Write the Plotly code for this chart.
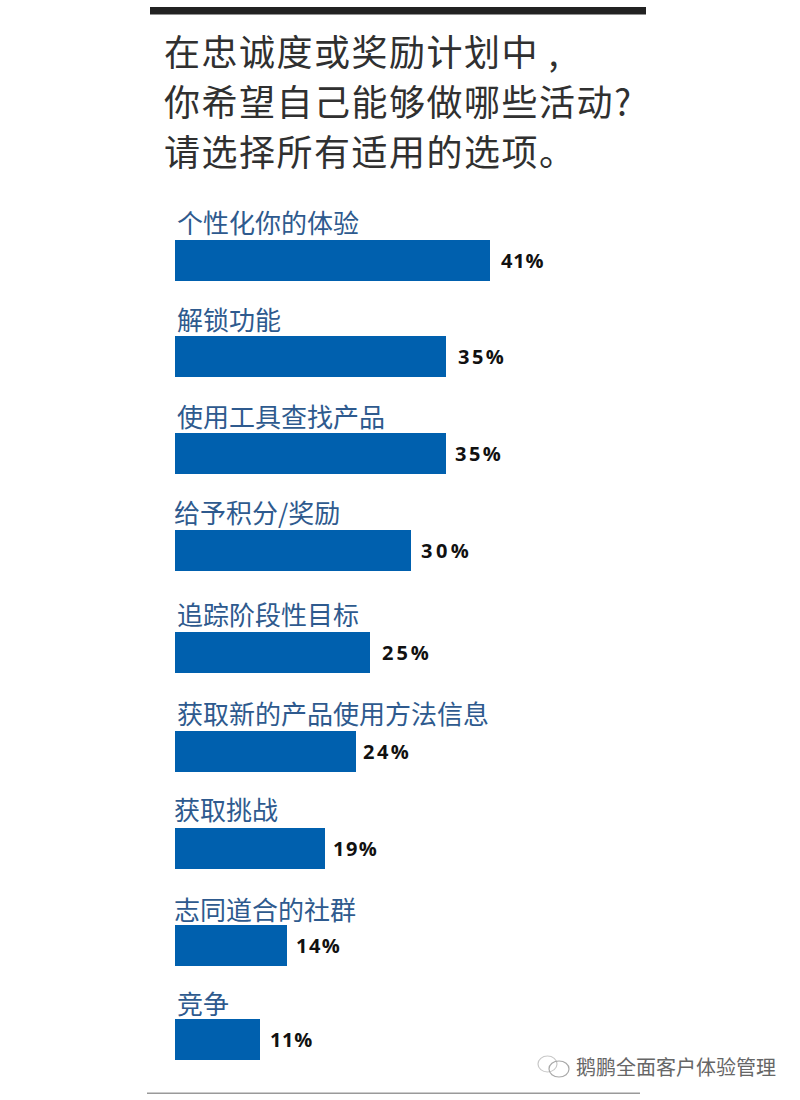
import plotly.graph_objects as go

title_lines = ["在忠诚度或奖励计划中 ,", "你希望自己能够做哪些活动?", "请选择所有适用的选项。"]
categories = ["个性化你的体验", "解锁功能", "使用工具查找产品", "给予积分/奖励", "追踪阶段性目标",
              "获取新的产品使用方法信息", "获取挑战", "志同道合的社群", "竞争"]
bar_values = [40.6, 35.0, 35.0, 30.4, 25.1, 23.4, 19.4, 14.5, 11.0]
value_labels = ["41%", "35%", "35%", "30%", "25%", "24%", "19%", "14%", "11%"]
watermark = "鹅鹏全面客户体验管理"

W, H = 800, 1100
X0, PX_PER_UNIT = 174.5, 7.75
ROW, FIRST_CENTRE, BAR_PX = 97.4, 260.5, 41
row_centres_px = [260.5, 356.5, 453.5, 550.5, 652.5, 751.5, 848.5, 945.5, 1039.5]
nudges = [c - (FIRST_CENTRE + i * ROW) for i, c in enumerate(row_centres_px)]
label_x_px = [175, 175, 175, 172, 175, 175, 172, 172, 175]
label_lift_px = [39, 38, 38, 39, 39, 39, 40, 37, 37]
value_gap_px = [10, 10, 7, 9, 10.5, 5, 6, 7, 8]
label_spacing_px = [0.8, 2.5, 2.5, 3.5, 3, 2.5, 1.5, 1.5, 0.7]
top_px = FIRST_CENTRE - ROW / 2
bot_px = top_px + ROW * len(categories)
width_units = BAR_PX / ROW

fig = go.Figure(go.Bar(
    x=bar_values, y=categories, orientation="h", width=width_units,
    offset=[-width_units / 2 + n / ROW for n in nudges],
    marker=dict(color="#0060AE", line=dict(width=0)), hoverinfo="skip"))

ann = []
for line, y in zip(title_lines, [50, 100, 150]):
    ann.append(dict(text=line, xref="paper", yref="paper", x=162 / W, y=1 - y / H, xanchor="left", yanchor="middle",
                    showarrow=False, font=dict(family="Noto Sans CJK SC", size=36, color="#303030")))
for cat, val, lab, n, lx, lift, gap in zip(categories, bar_values, value_labels, nudges, label_x_px,
                                           label_lift_px, value_gap_px):
    ann.append(dict(text=cat, xref="x", yref="y", x=0, y=cat, xanchor="left", yanchor="middle", xshift=lx - X0,
                    yshift=-n + lift, showarrow=False,
                    font=dict(family="Noto Sans CJK SC", size=26, color="#2E5A8E")))
    ann.append(dict(text=lab, xref="x", yref="y", x=val, y=cat, xanchor="left", yanchor="middle", xshift=gap,
                    yshift=-n, showarrow=False,
                    font=dict(family="Open Sans", size=20, color="#111111", weight=700)))
ann.append(dict(text=watermark, xref="paper", yref="paper", x=574 / W, y=1 - 1066 / H, xanchor="left", yanchor="middle",
                showarrow=False, font=dict(family="Noto Sans CJK SC", size=20, color="#666666")))

def rect(x0, y0, x1, y1, **kw):
    return dict(type="rect", xref="paper", yref="paper", x0=x0 / W, x1=x1 / W, y0=1 - y0 / H, y1=1 - y1 / H, **kw)

shapes = [
    rect(150, 7, 646, 14.5, fillcolor="#222222", line_width=0),
    rect(147, 1092.5, 640, 1094, fillcolor="#9a9a9a", line_width=0),
    dict(type="circle", xref="paper", yref="paper", x0=538 / W, x1=557 / W, y0=1 - 1072 / H, y1=1 - 1056 / H,
         line=dict(color="#c8c8c8", width=1.2)),
    dict(type="circle", xref="paper", yref="paper", x0=549 / W, x1=569 / W, y0=1 - 1077 / H, y1=1 - 1061 / H,
         line=dict(color="#a8a8a8", width=1.2)),
]

fig.update_layout(
    width=W, height=H, margin=dict(l=0, r=0, t=0, b=0), paper_bgcolor="white", plot_bgcolor="white",
    showlegend=False, annotations=ann, shapes=shapes, bargap=0,
    xaxis=dict(domain=[X0 / W, 1], range=[0, (W - X0) / PX_PER_UNIT], visible=False, fixedrange=True),
    yaxis=dict(domain=[1 - bot_px / H, 1 - top_px / H], range=[len(categories) - 0.5, -0.5], type="category",
               visible=False, fixedrange=True),
)
post = """
document.body.style.margin='0';document.body.style.overflow='hidden';
var sp = %s, k = 0, tl = %s;
function spaced(t, s){ t.style.letterSpacing = s + 'px'; t.setAttribute('dx', t.textContent.length * s / 2); }
document.querySelectorAll('.annotation-text').forEach(function(t){
  if (/^[0-9]+%%$/.test(t.textContent)) { spaced(t, sp[k++]); }
  else if (tl.indexOf(t.textContent) >= 0) { spaced(t, 1.5); }
});
""" % (label_spacing_px, repr(title_lines))
fig.write_html("out.html", config={"displayModeBar": False}, post_script=post)
